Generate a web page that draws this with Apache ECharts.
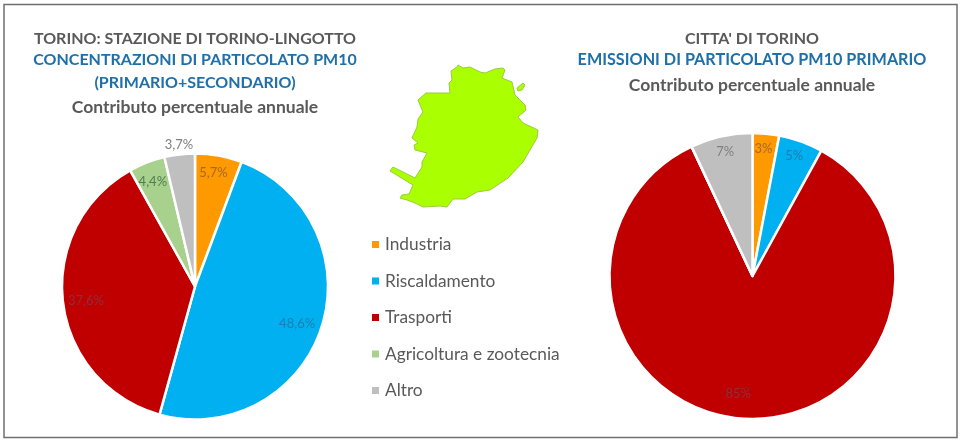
<!DOCTYPE html>
<html>
<head>
<meta charset="utf-8">
<style>html,body{margin:0;padding:0;background:#fff}#c{width:960px;height:440px}</style>
<script src="https://cdn.jsdelivr.net/npm/echarts@6/dist/echarts.min.js"></script>
</head>
<body>
<div id="c"></div>
<script>
const categories = ['Industria', 'Riscaldamento', 'Trasporti', 'Agricoltura e zootecnia', 'Altro'];
const colors = ['#FF9900', '#00B0F0', '#C00000', '#A9D18E', '#BFBFBF'];
const labelColors = ['#a8682a', '#1c7fae', '#8c2f3c', '#4f7d50', '#808080'];

const torinoLingottoValues = [5.7, 48.6, 37.6, 4.4, 3.7];
const torinoLingottoLabels = ['5,7%', '48,6%', '37,6%', '4,4%', '3,7%'];
const torinoLingottoNudge = [[6, -45.5], [36, 16], [-40, 6], [-17, -40], [-8, -73]];

const cittaValues = [3, 5, 85, 0, 7];
const cittaLabels = ['3%', '5%', '85%', '', '7%'];
const cittaNudge = [[4, -53], [16.5, -50], [-12, 43], [0, 0], [-11, -51]];

const leftTitleLines = [
  ['TORINO: STAZIONE DI TORINO-LINGOTTO', '#595959', 16],
  ['CONCENTRAZIONI DI PARTICOLATO PM10', '#1F6FA8', 16],
  ['(PRIMARIO+SECONDARIO)', '#1F6FA8', 16],
  ['Contributo percentuale annuale', '#595959', 17.5]
];
const rightTitleLines = [
  ["CITTA' DI TORINO", '#595959', 16],
  ['EMISSIONI DI PARTICOLATO PM10 PRIMARIO', '#1F6FA8', 16.2],
  ['Contributo percentuale annuale', '#595959', 17.5]
];
const mapOutline = [[458,65],[463,68],[470,67],[480,72],[485,73],[495,69],[503,68],[505,70],[502,78],[512,82],[515,95],[525,105],[526,110],[518,117],[523,123],[538,130],[537,138],[523,162],[508,178],[490,190],[477,192],[465,199],[453,199],[447,207],[440,206],[423,207],[415,203],[407,200],[400,198],[402,195],[409,194],[413,185],[390,171],[393,167],[415,178],[422,167],[422,162],[427,153],[415,150],[414,145],[418,143],[412,138],[417,127],[418,119],[423,112],[418,100],[426,93],[438,93],[450,93],[449,83],[452,80],[451,71],[457,67]];
const mapIsland = [[517,88],[523,83],[525,85],[522,90],[518,91]];

const FONT = 'Lato, "Open Sans", sans-serif';

function titles(lines, cx, tops) {
  return lines.map((l, i) => ({
    text: l[0], left: cx - 5, top: tops[i], textAlign: 'center',
    textStyle: { color: l[1], fontFamily: FONT, fontWeight: 'bold', fontSize: l[2] }
  }));
}
function pie(name, values, labels, nudge, center, radius) {
  return {
    name, type: 'pie', center, radius, startAngle: 90, clockwise: true,
    animation: false, silent: true, minAngle: 0,
    itemStyle: { borderColor: '#fff', borderWidth: 2.5 },
    label: { position: 'inside', fontFamily: FONT, fontSize: 13 },
    labelLine: { show: false },
    labelLayout: p => ({ dx: nudge[p.dataIndex][0], dy: nudge[p.dataIndex][1] }),
    data: categories.map((c, i) => ({
      name: c, value: values[i],
      itemStyle: { color: colors[i] },
      label: { formatter: labels[i], color: labelColors[i] }
    }))
  };
}

const chart = echarts.init(document.getElementById('c'), null, { renderer: 'canvas' });
chart.setOption({
  backgroundColor: '#fff',
  animation: false,
  title: [
    ...titles(leftTitleLines, 195, [26, 47, 70, 93]),
    ...titles(rightTitleLines, 752, [26, 47, 71])
  ],
  legend: {
    orient: 'vertical', left: 365, top: 231,
    icon: 'rect', itemWidth: 9, itemHeight: 9, itemGap: 19.5,
    selectedMode: false,
    data: categories,
    textStyle: { color: '#595959', fontFamily: FONT, fontSize: 17.3, padding: [0, 0, 0, 0] }
  },
  series: [
    pie('Torino-Lingotto', torinoLingottoValues, torinoLingottoLabels, torinoLingottoNudge, [195, 286.5], [0, 133]),
    pie('Città di Torino', cittaValues, cittaLabels, cittaNudge, [752.5, 276], [0, 143])
  ],
  graphic: [
    { type: 'rect', silent: true, shape: { x: 4, y: 4.5, width: 953, height: 433 },
      style: { fill: 'none', stroke: '#6f6f6f', lineWidth: 1.5 } },
    { type: 'polygon', silent: true, shape: { points: mapOutline },
      style: { fill: '#AAFF00', stroke: '#9CCB3A', lineWidth: 1 } },
    { type: 'polygon', silent: true, shape: { points: mapIsland },
      style: { fill: '#AAFF00', stroke: '#9CCB3A', lineWidth: 1 } }
  ]
});
</script>
</body>
</html>
